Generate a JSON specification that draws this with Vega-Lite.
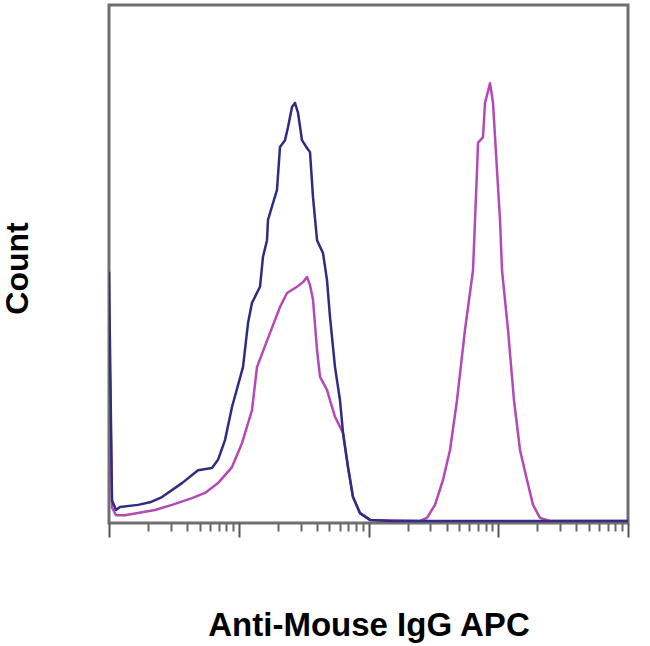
{
  "$schema": "https://vega.github.io/schema/vega-lite/v6.json",
  "width": 519,
  "height": 518,
  "autosize": "none",
  "padding": {"left": 109, "top": 5, "right": 22, "bottom": 123},
  "background": "white",
  "config": {
    "view": {"stroke": "#6f6f6f", "strokeWidth": 3},
    "font": "Liberation Sans"
  },
  "datasets": {
    "isotype": [
      {"intensity": 1, "count": 40},
      {"intensity": 1.055, "count": 3.0},
      {"intensity": 1.132, "count": 1.5},
      {"intensity": 1.328, "count": 1.5},
      {"intensity": 2.262, "count": 2.5},
      {"intensity": 3.059, "count": 3.5},
      {"intensity": 4.362, "count": 4.8},
      {"intensity": 5.494, "count": 5.8},
      {"intensity": 6.92, "count": 7.7},
      {"intensity": 8.872, "count": 10.8},
      {"intensity": 10.59, "count": 15.4},
      {"intensity": 12.65, "count": 21.8},
      {"intensity": 13.82, "count": 30.1},
      {"intensity": 17.41, "count": 36.7},
      {"intensity": 20.79, "count": 41.7},
      {"intensity": 23.54, "count": 44.4},
      {"intensity": 28.12, "count": 45.6},
      {"intensity": 31.27, "count": 46.5},
      {"intensity": 33.57, "count": 47.5},
      {"intensity": 35.41, "count": 45.9},
      {"intensity": 37.35, "count": 43.1},
      {"intensity": 40.11, "count": 33.4},
      {"intensity": 42.3, "count": 28.2},
      {"intensity": 47.88, "count": 25.7},
      {"intensity": 50.49, "count": 23.7},
      {"intensity": 55.19, "count": 20.5},
      {"intensity": 63.61, "count": 17.4},
      {"intensity": 69.51, "count": 10.8},
      {"intensity": 75.95, "count": 5.0},
      {"intensity": 86.03, "count": 1.9},
      {"intensity": 102.7, "count": 0.6},
      {"intensity": 249.5, "count": 0.4},
      {"intensity": 282.4, "count": 1.0},
      {"intensity": 325.4, "count": 3.5},
      {"intensity": 375.1, "count": 8.3},
      {"intensity": 424.8, "count": 14.1},
      {"intensity": 481.0, "count": 23.7},
      {"intensity": 554.1, "count": 37.3},
      {"intensity": 639.0, "count": 48.8},
      {"intensity": 662.1, "count": 58.5},
      {"intensity": 686.1, "count": 68.1},
      {"intensity": 698.4, "count": 73.4},
      {"intensity": 763.0, "count": 74.5},
      {"intensity": 790.6, "count": 81.1},
      {"intensity": 864.1, "count": 84.9},
      {"intensity": 911.3, "count": 81.1},
      {"intensity": 978.1, "count": 68.1},
      {"intensity": 1031.6, "count": 58.5},
      {"intensity": 1069, "count": 48.8},
      {"intensity": 1189, "count": 37.3},
      {"intensity": 1322, "count": 23.7},
      {"intensity": 1471, "count": 14.1},
      {"intensity": 1666, "count": 8.3},
      {"intensity": 1853, "count": 3.5},
      {"intensity": 2098, "count": 1.0},
      {"intensity": 2500, "count": 0.4},
      {"intensity": 10000, "count": 0.4}
    ],
    "stained": [
      {"intensity": 1, "count": 48.5},
      {"intensity": 1.055, "count": 4.4},
      {"intensity": 1.132, "count": 2.5},
      {"intensity": 1.215, "count": 3.1},
      {"intensity": 1.673, "count": 3.5},
      {"intensity": 2.07, "count": 4.0},
      {"intensity": 2.562, "count": 5.0},
      {"intensity": 3.653, "count": 7.7},
      {"intensity": 4.852, "count": 10.2},
      {"intensity": 6.221, "count": 10.6},
      {"intensity": 6.92, "count": 12.2},
      {"intensity": 7.834, "count": 16.0},
      {"intensity": 8.872, "count": 22.4},
      {"intensity": 10.78, "count": 30.1},
      {"intensity": 11.79, "count": 38.6},
      {"intensity": 12.65, "count": 42.5},
      {"intensity": 14.58, "count": 45.6},
      {"intensity": 15.38, "count": 51.4},
      {"intensity": 16.51, "count": 54.6},
      {"intensity": 16.8, "count": 58.5},
      {"intensity": 19.71, "count": 64.3},
      {"intensity": 20.79, "count": 72.6},
      {"intensity": 22.73, "count": 73.9},
      {"intensity": 23.96, "count": 76.4},
      {"intensity": 25.73, "count": 80.3},
      {"intensity": 27.13, "count": 81.1},
      {"intensity": 28.62, "count": 79.2},
      {"intensity": 30.72, "count": 73.9},
      {"intensity": 33.57, "count": 72.4},
      {"intensity": 35.41, "count": 71.6},
      {"intensity": 37.35, "count": 62.9},
      {"intensity": 40.11, "count": 54.6},
      {"intensity": 44.61, "count": 52.1},
      {"intensity": 47.88, "count": 46.9},
      {"intensity": 50.49, "count": 39.8},
      {"intensity": 55.19, "count": 30.1},
      {"intensity": 60.3, "count": 23.7},
      {"intensity": 63.61, "count": 17.4},
      {"intensity": 69.51, "count": 10.8},
      {"intensity": 75.95, "count": 5.0},
      {"intensity": 86.03, "count": 1.9},
      {"intensity": 102.7, "count": 0.6},
      {"intensity": 146.5, "count": 0.4},
      {"intensity": 10000, "count": 0.4}
    ]
  },
  "layer": [
    {
      "data": {"name": "isotype"},
      "mark": {"type": "line", "color": "#b548b6", "strokeWidth": 2.5, "strokeJoin": "round", "clip": true},
      "encoding": {
        "x": {
          "field": "intensity",
          "type": "quantitative",
          "scale": {"type": "log", "domain": [1, 10000], "nice": false},
          "axis": {
            "orient": "bottom",
            "values": [1, 10, 100, 1000, 10000],
            "labels": false,
            "domain": false,
            "grid": false,
            "tickSize": 14,
            "tickWidth": 2,
            "tickColor": "#555555",
            "title": "Anti-Mouse IgG APC",
            "titleFont": "Liberation Sans",
            "titleFontSize": 33,
            "titleFontWeight": "bold",
            "titleColor": "#000000",
            "titleBaseline": "alphabetic",
            "titleY": 112
          }
        },
        "y": {
          "field": "count",
          "type": "quantitative",
          "scale": {"domain": [0, 100], "nice": false},
          "axis": {
            "labels": false,
            "ticks": false,
            "domain": false,
            "grid": false,
            "title": "Count",
            "titleFont": "Liberation Sans",
            "titleFontSize": 32,
            "titleFontWeight": "bold",
            "titleColor": "#000000",
            "titleAngle": -90,
            "titleAlign": "center",
            "titleBaseline": "middle",
            "titleX": -92,
            "titleY": 263
          }
        },
        "order": {"field": "intensity", "type": "quantitative"}
      }
    },
    {
      "data": {"name": "stained"},
      "mark": {"type": "line", "color": "#312c80", "strokeWidth": 2.5, "strokeJoin": "round", "clip": true},
      "encoding": {
        "x": {
          "field": "intensity",
          "type": "quantitative",
          "scale": {"type": "log", "domain": [1, 10000], "nice": false},
          "axis": {
            "orient": "bottom",
            "values": [2, 3, 4, 5, 6, 7, 8, 9, 20, 30, 40, 50, 60, 70, 80, 90, 200, 300, 400, 500, 600, 700, 800, 900, 2000, 3000, 4000, 5000, 6000, 7000, 8000, 9000],
            "labels": false,
            "domain": false,
            "grid": false,
            "tickSize": 8,
            "tickWidth": 2,
            "tickColor": "#666666",
            "title": null
          }
        },
        "y": {
          "field": "count",
          "type": "quantitative",
          "scale": {"domain": [0, 100], "nice": false},
          "axis": {
            "labels": false,
            "ticks": false,
            "domain": false,
            "grid": false,
            "title": "Count",
            "titleFont": "Liberation Sans",
            "titleFontSize": 32,
            "titleFontWeight": "bold",
            "titleColor": "#000000",
            "titleAngle": -90,
            "titleAlign": "center",
            "titleBaseline": "middle",
            "titleX": -92,
            "titleY": 263
          }
        },
        "order": {"field": "intensity", "type": "quantitative"}
      }
    }
  ],
  "resolve": {"axis": {"x": "independent", "y": "shared"}}
}
